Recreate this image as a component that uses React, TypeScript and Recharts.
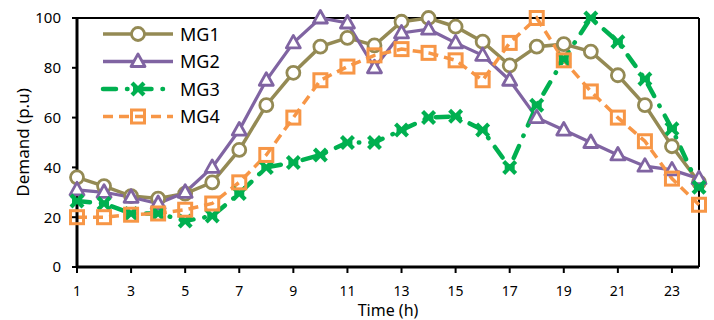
import { LineChart, Line, XAxis, YAxis, ReferenceLine, Legend } from "recharts";

const hours = [1, 2, 3, 4, 5, 6, 7, 8, 9, 10, 11, 12, 13, 14, 15, 16, 17, 18, 19, 20, 21, 22, 23, 24];
const mg1 = [36, 32.5, 28.5, 27.5, 29.5, 34, 47, 65, 78, 88.5, 92, 89, 98.5, 100, 96.5, 90.5, 81, 88.5, 89.5, 86.5, 77, 65, 48.5, 34];
const mg2 = [31, 30, 28, 25.5, 30, 40, 55, 75, 90, 100, 98, 80, 94, 95.5, 90, 85, 75, 60, 55, 50, 45, 40.5, 39, 35.5];
const mg3 = [26.5, 25.5, 21.5, 21.5, 18.5, 20.5, 29.5, 40, 42, 45, 50, 50, 55, 60, 60.5, 55, 40, 65, 83.5, 100, 90.5, 75.5, 55.5, 32];
const mg4 = [20, 20, 21, 21.5, 23, 25.5, 34, 45, 60, 75, 80.5, 85, 87.5, 86, 83, 75, 90, 100, 83, 70.5, 60, 50.5, 35.5, 25];
const xTicks = [1, 3, 5, 7, 9, 11, 13, 15, 17, 19, 21, 23];
const yTicks = [0, 20, 40, 60, 80, 100];

const data = hours.map((h, i) => ({ h, MG1: mg1[i], MG2: mg2[i], MG3: mg3[i], MG4: mg4[i] }));

const C1 = "#948A54";
const C2 = "#8064A2";
const C3 = "#00B050";
const C4 = "#F79646";
const FONT = "'Noto Sans', sans-serif";

const circle = (cx: number, cy: number, key?: any) => (
  <circle key={key} cx={cx} cy={cy} r={6.5} fill="#fff" stroke={C1} strokeWidth={2.8} />
);
const triangle = (cx: number, cy: number, key?: any) => (
  <path key={key} d={`M${cx},${cy - 7.5} L${cx + 7},${cy + 5} L${cx - 7},${cy + 5} Z`} fill="#fff" stroke={C2} strokeWidth={2.8} strokeLinejoin="round" />
);
const star = (cx: number, cy: number, key?: any) => (
  <g key={key} stroke={C3} strokeWidth={4.2}>
    <line x1={cx - 6} y1={cy - 6} x2={cx + 6} y2={cy + 6} />
    <line x1={cx - 6} y1={cy + 6} x2={cx + 6} y2={cy - 6} />
    <line x1={cx - 5} y1={cy} x2={cx + 5} y2={cy} />
  </g>
);
const square = (cx: number, cy: number, key?: any) => (
  <rect key={key} x={cx - 6.5} y={cy - 6.5} width={13} height={13} fill="none" stroke={C4} strokeWidth={3} />
);

const legendRows = [
  { name: "MG1", color: C1, width: 3.5, dash: undefined, cap: "butt", marker: circle },
  { name: "MG2", color: C2, width: 3.5, dash: undefined, cap: "butt", marker: triangle },
  { name: "MG3", color: C3, width: 4.5, dash: "13 11 0.5 11", cap: "round", marker: star },
  { name: "MG4", color: C4, width: 3.5, dash: "10 6", cap: "butt", marker: square },
];

const renderLegend = () => (
  <svg width={160} height={110} style={{ display: "block" }}>
    {legendRows.map((r, i) => {
      const y = 14 + i * 27.5;
      return (
        <g key={r.name}>
          <line x1={8} y1={y} x2={78} y2={y} stroke={r.color} strokeWidth={r.width} strokeDasharray={r.dash} strokeLinecap={r.cap as any} />
          {r.marker(43, y)}
          <text x={85} y={y + 6.5} fontSize={18} fontFamily={FONT} fill="#000">{r.name}</text>
        </g>
      );
    })}
  </svg>
);

const App = () => (
  <div style={{ position: "fixed", left: 0, top: 0, width: 714, height: 320, background: "#fff" }}>
    <LineChart width={714} height={320} data={data} margin={{ top: 18, right: 15, left: 0, bottom: 0 }}>
      <XAxis
        dataKey="h"
        type="number"
        domain={[1, 24]}
        ticks={xTicks}
        interval={0}
        height={53}
        axisLine={{ stroke: "#000", strokeWidth: 3 }}
        tickLine={{ stroke: "#000", strokeWidth: 2 }}
        tickSize={6}
        tickMargin={13}
        tick={{ fill: "#000", fontSize: 14, fontFamily: FONT }}
        label={{ value: "Time (h)", position: "insideBottom", offset: 4, fill: "#000", fontSize: 16, fontFamily: FONT }}
      />
      <YAxis
        type="number"
        domain={[0, 100]}
        ticks={yTicks}
        width={77}
        axisLine={{ stroke: "#000", strokeWidth: 3 }}
        tickLine={{ stroke: "#000", strokeWidth: 2 }}
        tickSize={5}
        tickMargin={11}
        tick={{ fill: "#000", fontSize: 15, fontFamily: FONT }}
        label={{
          content: ({ viewBox }: any) => (
            <text
              x={22}
              y={viewBox.y + viewBox.height / 2}
              transform={`rotate(-90 22 ${viewBox.y + viewBox.height / 2})`}
              textAnchor="middle"
              dominantBaseline="central"
              fontSize={17}
              fontFamily={FONT}
              fill="#000"
            >
              Demand (p.u)
            </text>
          ),
        }}
      />
      <ReferenceLine y={100} stroke="#000" strokeWidth={2} />
      <ReferenceLine x={24} stroke="#000" strokeWidth={2} />
      <Legend
        layout="horizontal"
        verticalAlign="middle"
        align="center"
        content={renderLegend}
        wrapperStyle={{ left: 95, top: 20, width: 160, height: 110 }}
      />
      <Line dataKey="MG1" stroke={C1} strokeWidth={3.5} isAnimationActive={false} dot={(p: any) => circle(p.cx, p.cy, p.key ?? `a${p.index}`)} activeDot={false} />
      <Line dataKey="MG2" stroke={C2} strokeWidth={3.2} isAnimationActive={false} dot={(p: any) => triangle(p.cx, p.cy, p.key ?? `b${p.index}`)} activeDot={false} />
      <Line dataKey="MG3" stroke={C3} strokeWidth={4.5} strokeDasharray="13 11 0.5 11" strokeLinecap="round" isAnimationActive={false} dot={(p: any) => star(p.cx, p.cy, p.key ?? `c${p.index}`)} activeDot={false} />
      <Line dataKey="MG4" stroke={C4} strokeWidth={3.5} strokeDasharray="10 6" isAnimationActive={false} dot={(p: any) => square(p.cx, p.cy, p.key ?? `d${p.index}`)} activeDot={false} />
    </LineChart>
  </div>
);

export default App;
